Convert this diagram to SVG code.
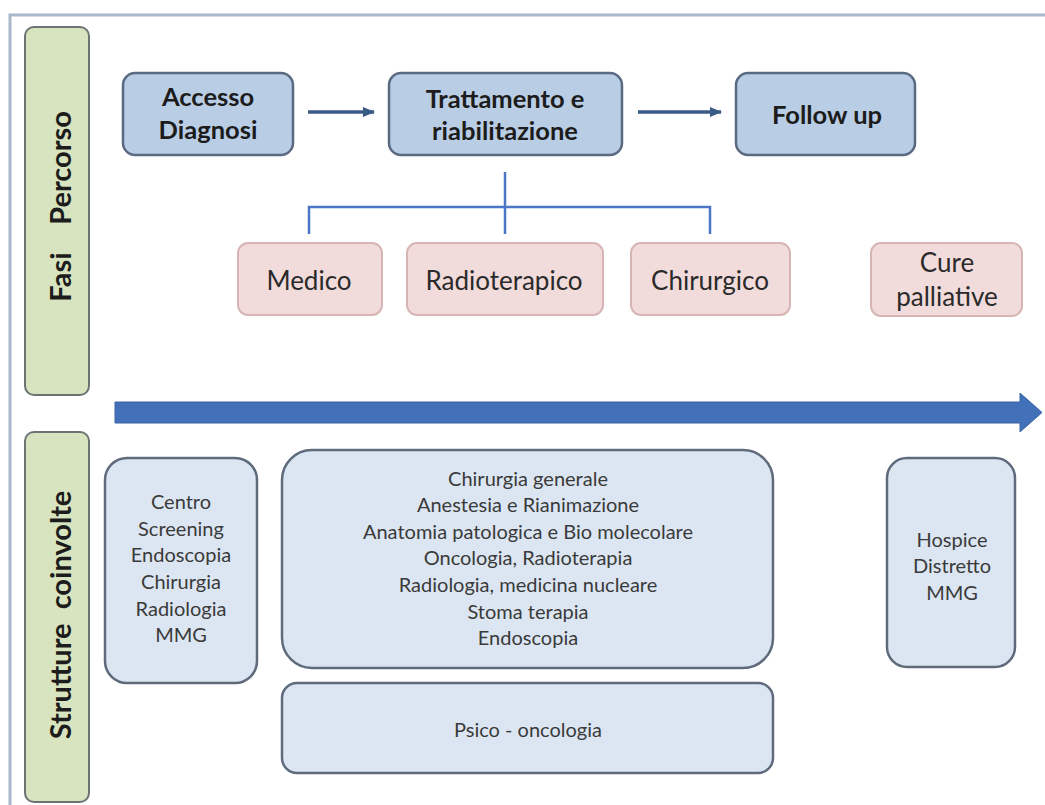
<svg xmlns="http://www.w3.org/2000/svg" width="1045" height="805" viewBox="0 0 1045 805">
<style>
.side{fill:#d8e3bf;stroke:#6c7373;stroke-width:2}
.phase{fill:#b9cde5;stroke:#5a6a82;stroke-width:2.5}
.pink{fill:#f2dcdb;stroke:#d7b5b5;stroke-width:2}
.struct{fill:#dce6f2;stroke:#5f6b7c;stroke-width:2.5}
.bt{font-family:Lato,"Liberation Sans",sans-serif;font-weight:bold;font-size:25.5px;fill:#1c1c1c;text-anchor:middle}
.pt{font-family:Lato,"Liberation Sans",sans-serif;font-size:26px;fill:#2a2a2a;text-anchor:middle}
.st{font-family:Lato,"Liberation Sans",sans-serif;font-size:20px;fill:#3a3a3a;text-anchor:middle}
.sd{font-family:Lato,"Liberation Sans",sans-serif;font-weight:bold;font-size:29px;fill:#1c1c1c;text-anchor:middle}
.flow{stroke:#3b5b87;stroke-width:3.5;fill:none}
.tree{stroke:#4d77c6;stroke-width:2.5;fill:none}
</style>
<defs>
<marker id="ah" viewBox="0 0 10 10" refX="9" refY="5" markerWidth="3.6" markerHeight="3.6" orient="auto" markerUnits="strokeWidth">
<path d="M0,1 L10,5 L0,9 z" fill="#3b5b87"/>
</marker>
</defs>
<rect width="1045" height="805" fill="#ffffff"/>
<path d="M10,805 L10,15 L1045,15" fill="none" stroke="#aab8cc" stroke-width="3"/>

<g id="side-fasi">
<rect class="side" x="25" y="27" width="64" height="368" rx="9"/>
<text class="sd" transform="translate(59,0) rotate(-90)" dominant-baseline="central"><tspan x="-277" y="0">Fasi</tspan><tspan x="-168" y="0">Percorso</tspan></text>
</g>
<g id="side-strutture">
<rect class="side" x="25" y="432" width="64" height="370" rx="9"/>
<text class="sd" transform="translate(59,615) rotate(-90)" dominant-baseline="central" x="0" y="0" xml:space="preserve">Strutture  coinvolte</text>
</g>

<g id="connectors">
<line class="flow" x1="308" y1="112" x2="374" y2="112" marker-end="url(#ah)"/>
<line class="flow" x1="638" y1="112" x2="721" y2="112" marker-end="url(#ah)"/>
<path class="tree" d="M505,172 L505,234 M309,234 L309,207 L710,207 L710,234"/>
<polygon points="115,402 1020,402 1020,393 1042,412.5 1020,432 1020,423 115,423" fill="#4271b9" stroke="#3a63a3" stroke-width="1"/>
</g>

<g id="n-accesso">
<rect class="phase" x="123" y="73" width="170" height="82" rx="12"/>
<text class="bt" x="208" y="106">Accesso</text>
<text class="bt" x="208" y="139">Diagnosi</text>
</g>
<g id="n-trattamento">
<rect class="phase" x="389" y="73" width="233" height="82" rx="12"/>
<text class="bt" x="505" y="108">Trattamento e</text>
<text class="bt" x="505" y="140">riabilitazione</text>
</g>
<g id="n-follow">
<rect class="phase" x="736" y="73" width="179" height="82" rx="12"/>
<text class="bt" x="827" y="124">Follow up</text>
</g>

<g id="n-medico">
<rect class="pink" x="238" y="243" width="144" height="72" rx="10"/>
<text class="pt" x="309" y="290">Medico</text>
</g>
<g id="n-radio">
<rect class="pink" x="407" y="243" width="196" height="72" rx="10"/>
<text class="pt" x="504" y="290">Radioterapico</text>
</g>
<g id="n-chir">
<rect class="pink" x="631" y="243" width="159" height="72" rx="10"/>
<text class="pt" x="710" y="290">Chirurgico</text>
</g>
<g id="n-cure">
<rect class="pink" x="871" y="243" width="151" height="73" rx="10"/>
<text class="pt" x="947" y="272">Cure</text>
<text class="pt" x="947" y="306">palliative</text>
</g>

<g id="s-left">
<rect class="struct" x="105" y="458" width="152" height="225" rx="22"/>
<text class="st" x="181" y="509">Centro</text>
<text class="st" x="181" y="536">Screening</text>
<text class="st" x="181" y="562">Endoscopia</text>
<text class="st" x="181" y="589">Chirurgia</text>
<text class="st" x="181" y="616">Radiologia</text>
<text class="st" x="181" y="642">MMG</text>
</g>
<g id="s-middle">
<rect class="struct" x="282" y="450" width="491" height="218" rx="30"/>
<text class="st" x="528" y="486">Chirurgia generale</text>
<text class="st" x="528" y="512">Anestesia e Rianimazione</text>
<text class="st" x="528" y="539">Anatomia patologica e Bio molecolare</text>
<text class="st" x="528" y="565">Oncologia, Radioterapia</text>
<text class="st" x="528" y="592">Radiologia, medicina nucleare</text>
<text class="st" x="528" y="619">Stoma terapia</text>
<text class="st" x="528" y="645">Endoscopia</text>
</g>
<g id="s-psico">
<rect class="struct" x="282" y="683" width="491" height="90" rx="15"/>
<text class="st" x="528" y="737">Psico - oncologia</text>
</g>
<g id="s-hospice">
<rect class="struct" x="887" y="458" width="128" height="209" rx="20"/>
<text class="st" x="952" y="547">Hospice</text>
<text class="st" x="952" y="573">Distretto</text>
<text class="st" x="952" y="600">MMG</text>
</g>
</svg>
